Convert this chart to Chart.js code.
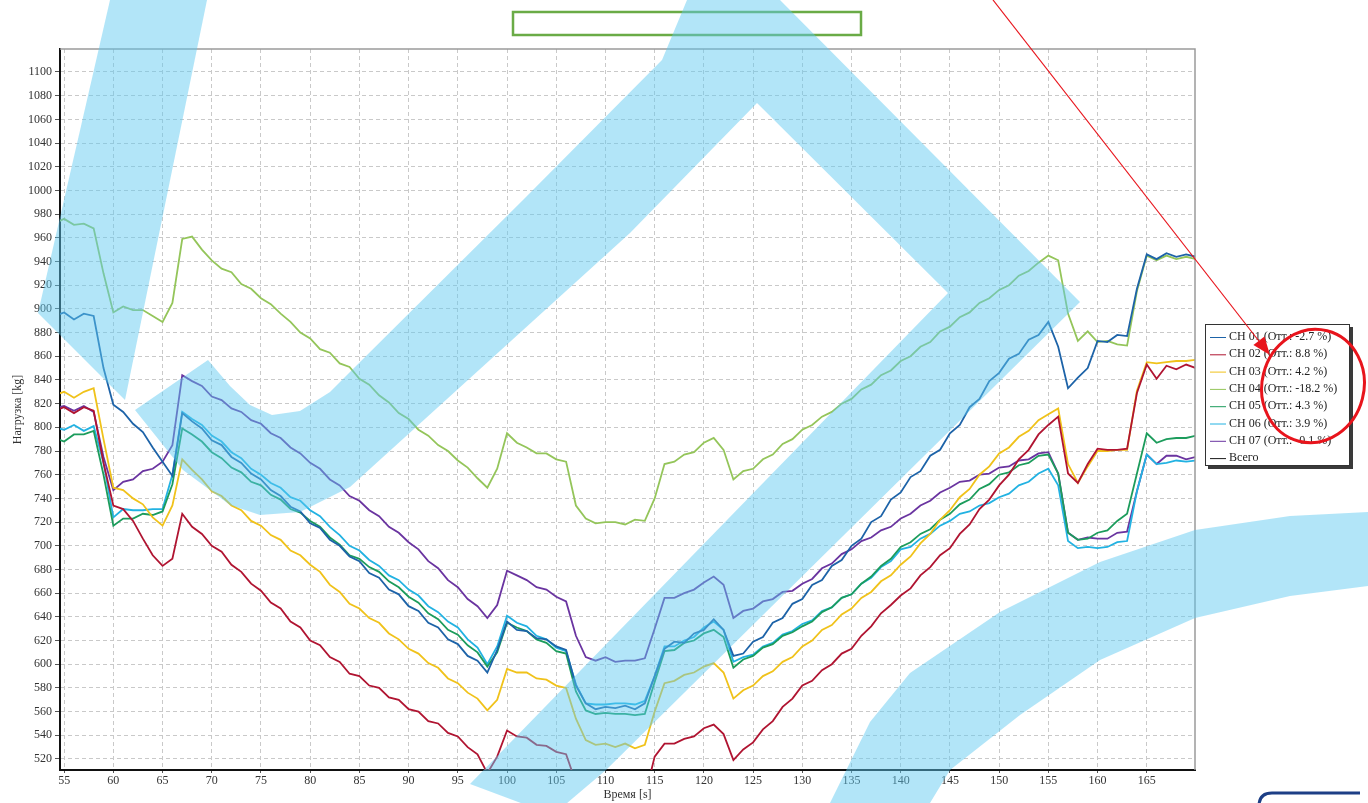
<!DOCTYPE html>
<html>
<head>
<meta charset="utf-8">
<script src="https://cdn.jsdelivr.net/npm/chart.js@4.4.1/dist/chart.umd.min.js"></script>
<style>
html,body{margin:0;padding:0;background:#fff;}
#wrap{position:relative;width:1368px;height:803px;overflow:hidden;}
canvas{display:block;}
</style>
</head>
<body>
<div id="wrap"><canvas id="c" width="1368" height="803"></canvas></div>
<script>
// ---- data ----
const times = [54,55,56,57,58,59,60,61,62,63,64,65,66,67,68,69,70,71,72,73,74,75,76,77,78,79,80,81,82,83,84,85,86,87,88,89,90,91,92,93,94,95,96,97,98,99,100,101,102,103,104,105,106,107,108,109,110,111,112,113,114,115,116,117,118,119,120,121,122,123,124,125,126,127,128,129,130,131,132,133,134,135,136,137,138,139,140,141,142,143,144,145,146,147,148,149,150,151,152,153,154,155,156,157,158,159,160,161,162,163,164,165,166,167,168,169,170];

const ch01 = [894,897,891,896,894,850,819,
  813,803,796,783,771,759,812,805,799,789,
  785,775,770,761,756,747,742,733,729,719,
  715,705,700,691,687,677,673,663,659,649,
  645,635,631,621,617,607,603,593,612,636,
  629,628,622,621,615,612,582,567,562,564,
  563,565,562,567,590,613,619,618,626,629,
  638,629,607,609,619,623,635,639,651,655,
  667,671,683,688,700,706,720,725,739,745,
  758,763,776,781,795,802,817,824,839,846,
  858,862,874,878,889,868,833,842,850,873,
  872,878,877,917,946,942,947,944,946,944];

const ch02 = [814,817,812,817,814,770,734,
  731,721,706,692,683,689,727,716,710,700,
  695,684,678,668,662,652,647,636,631,620,
  616,606,602,592,590,582,580,572,570,562,
  560,552,550,542,539,530,524,508,522,544,
  539,538,532,531,526,524,500,490,491,488,
  491,490,491,488,522,533,533,537,539,546,
  549,541,519,528,534,545,552,564,571,582,
  586,595,600,609,613,624,632,643,650,658,
  664,675,682,692,698,710,718,731,739,751,
  760,773,781,794,802,809,761,753,769,782,
  781,781,782,829,853,841,852,849,853,850];

const ch03 = [827,830,825,830,833,790,749,
  747,740,735,724,717,734,773,764,756,746,
  742,734,730,721,717,709,705,696,692,684,
  678,667,661,651,647,639,635,626,621,613,
  609,601,597,588,584,576,571,561,570,596,
  593,593,588,587,582,580,554,536,532,533,
  530,533,529,532,560,584,586,591,593,598,
  601,593,571,578,582,590,594,602,606,615,
  620,629,633,642,647,656,661,670,675,684,
  691,702,710,722,730,741,748,760,767,778,
  783,792,797,806,811,816,769,753,767,780,
  780,781,781,831,855,854,855,856,856,857];

const ch04 = [972,976,971,972,968,930,897,
  902,899,899,894,889,905,959,961,950,941,
  934,931,921,917,909,904,896,889,880,875,
  866,863,854,851,841,836,827,821,812,807,
  798,793,785,780,772,766,757,749,765,795,
  787,783,778,778,773,771,734,723,719,720,
  720,718,722,721,740,769,771,777,779,787,
  791,781,756,763,765,773,777,786,790,798,
  802,809,813,820,824,832,836,844,848,856,
  860,868,872,881,885,893,897,905,909,916,
  920,928,932,939,945,941,896,873,881,872,
  873,870,869,915,945,941,945,942,944,942];

const ch05 = [791,788,794,794,797,760,717,
  723,723,727,726,729,752,799,794,788,779,
  774,766,762,754,751,743,739,731,728,721,
  716,707,701,692,689,682,678,670,665,657,
  652,643,638,629,625,616,610,598,610,635,
  631,628,621,618,611,609,577,561,558,559,
  558,558,557,558,585,611,612,618,620,626,
  629,623,597,604,607,614,617,624,627,632,
  636,644,648,656,659,668,674,683,689,699,
  703,710,714,722,727,735,739,748,752,760,
  762,768,770,776,777,761,711,705,706,711,
  713,721,727,761,795,787,790,791,791,793];

const ch06 = [800,798,802,797,801,770,724,
  731,730,730,731,731,760,813,807,802,793,
  788,779,774,765,760,753,749,741,738,730,
  725,716,709,700,696,688,683,675,671,663,
  658,649,644,636,631,621,614,600,615,641,
  635,632,624,621,614,611,583,567,566,566,
  567,567,566,569,590,615,615,620,623,631,
  636,629,602,606,608,615,618,625,628,634,
  637,645,648,656,659,668,673,682,687,697,
  699,706,710,717,721,727,729,734,736,741,
  744,751,754,761,765,751,704,698,699,698,
  699,703,704,746,777,769,770,772,771,772];

const ch07 = [816,818,814,818,813,775,747,
  754,756,763,765,771,785,844,839,835,826,
  823,816,813,806,803,795,791,783,778,770,
  765,756,751,742,738,730,725,716,711,703,
  697,687,681,671,665,655,649,639,650,679,
  675,671,665,663,657,653,624,606,603,606,
  602,603,603,605,630,656,656,660,663,669,
  674,667,639,645,647,653,655,661,662,668,
  672,681,685,693,697,704,707,713,716,723,
  727,734,738,745,749,754,755,760,761,766,
  767,772,773,778,779,761,711,705,707,706,
  706,711,712,746,777,769,776,776,773,775];

const vsego = []; // total lies far above the visible range

const seriesLabels = ['CH 01 (Отт.: -2.7 %)','CH 02 (Отт.: 8.8 %)','CH 03 (Отт.: 4.2 %)','CH 04 (Отт.: -18.2 %)','CH 05 (Отт.: 4.3 %)','CH 06 (Отт.: 3.9 %)','CH 07 (Отт.: -0.1 %)','Всего'];
const seriesValues = [ch01, ch02, ch03, ch04, ch05, ch06, ch07, vsego];
const seriesColors = ['#1d63a8','#b01431','#f0c21a','#94c55a','#1c9c5c','#22b2e2','#6a34a0','#1a1a1a'];

const yMin = 510.7, yMax = 1119.4, yStep = 20;
const xMin = 54.58, xMax = 169.9, xStep = 5;

// ---- decoration geometry (pixels) ----
const wmShapes = [
  [[110,0],[207,0],[125,400],[38,313]],
  [[135,410],[208,360],[230,386],[250,405],[272,415],[300,411],[330,392],[355,367],[523,200],[662,60],[687,0],[780,0],
   [1080,302],[606,770],[553,815],[470,784],[948,293],[757,103],[630,233],[350,487],[300,512],[260,515],[230,505],[183,470]],
  [[830,803],[870,722],[910,673],[1000,612],[1100,562],[1195,530],[1290,516],[1368,512],
   [1368,586],[1290,596],[1195,618],[1100,660],[1020,715],[950,770],[930,803]]
];

const SERIF = '"Liberation Serif", "Times New Roman", serif';

const datasets = seriesValues.map((vals, i) => ({
  label: seriesLabels[i],
  data: vals.map((v, k) => ({x: times[k], y: v})),
  borderColor: seriesColors[i],
  backgroundColor: seriesColors[i],
  borderWidth: 1.8,
  pointRadius: 0,
  tension: 0,
  fill: false
}));

const decorPlugin = {
  id: 'decor',
  afterDraw(chart) {
    const ctx = chart.ctx;
    const a = chart.chartArea;
    ctx.save();
    // top & right frame lines
    ctx.strokeStyle = '#9a9a9a';
    ctx.lineWidth = 1.5;
    ctx.beginPath();
    ctx.moveTo(a.left, a.top); ctx.lineTo(a.right, a.top); ctx.lineTo(a.right, a.bottom);
    ctx.stroke();

    // legend box
    const lx = 1205, ly = 324, lw = 145, lh = 142;
    ctx.fillStyle = '#3a3a3a';
    ctx.fillRect(lx + 3, ly + 3, lw, lh);
    ctx.fillStyle = '#fff';
    ctx.fillRect(lx, ly, lw, lh);
    ctx.strokeStyle = '#333';
    ctx.lineWidth = 1;
    ctx.strokeRect(lx + 0.5, ly + 0.5, lw - 1, lh - 1);
    ctx.font = '12px ' + SERIF;
    ctx.textBaseline = 'middle';
    chart.data.datasets.forEach((ds, i) => {
      const cy = ly + 13 + i * 17.3;
      ctx.strokeStyle = ds.borderColor;
      ctx.lineWidth = 1;
      ctx.beginPath();
      ctx.moveTo(lx + 5, cy + 0.5); ctx.lineTo(lx + 21, cy + 0.5);
      ctx.stroke();
      ctx.fillStyle = '#222';
      ctx.fillText(ds.label, lx + 24, cy);
    });

    // green title frame
    ctx.strokeStyle = '#6aab46';
    ctx.lineWidth = 2.5;
    ctx.strokeRect(513, 12, 348, 23);

    // translucent watermark
    ctx.fillStyle = 'rgba(95, 200, 240, 0.48)';
    wmShapes.forEach(poly => {
      ctx.beginPath();
      poly.forEach((p, k) => k ? ctx.lineTo(p[0], p[1]) : ctx.moveTo(p[0], p[1]));
      ctx.closePath();
      ctx.fill();
    });

    // small logo edge bottom-right
    ctx.strokeStyle = '#1d3f86';
    ctx.lineWidth = 3;
    ctx.beginPath();
    ctx.moveTo(1259, 806); ctx.quadraticCurveTo(1259, 793, 1272, 793); ctx.lineTo(1360, 793);
    ctx.stroke();

    // red annotation: line with arrow + ellipse
    ctx.strokeStyle = '#e8141c';
    ctx.fillStyle = '#e8141c';
    ctx.lineWidth = 1.2;
    const x0 = 993, y0 = 0, x1 = 1270, y1 = 355;
    ctx.beginPath(); ctx.moveTo(x0, y0); ctx.lineTo(x1 - 8, y1 - 10); ctx.stroke();
    const ang = Math.atan2(y1 - y0, x1 - x0);
    const L = 18, W = 7;
    ctx.beginPath();
    ctx.moveTo(x1, y1);
    ctx.lineTo(x1 - L * Math.cos(ang) + W * Math.sin(ang), y1 - L * Math.sin(ang) - W * Math.cos(ang));
    ctx.lineTo(x1 - L * Math.cos(ang) - W * Math.sin(ang), y1 - L * Math.sin(ang) + W * Math.cos(ang));
    ctx.closePath(); ctx.fill();
    ctx.lineWidth = 3;
    ctx.beginPath();
    ctx.ellipse(1313, 386, 51, 57, 0.25, 0, Math.PI * 2);
    ctx.stroke();
    ctx.restore();
  }
};

new Chart(document.getElementById('c'), {
  type: 'line',
  data: { datasets },
  options: {
    responsive: false,
    animation: false,
    events: [],
    layout: { padding: { left: 0, top: 49, right: 173, bottom: 0 } },
    plugins: { legend: { display: false }, tooltip: { enabled: false } },
    scales: {
      x: {
        type: 'linear', min: xMin, max: xMax,
        afterFit(s) { s.height = 33; },
        ticks: { stepSize: xStep, includeBounds: false, autoSkip: false, maxRotation: 0,
          padding: 1, color: '#333', font: { family: SERIF, size: 12 },
          callback: v => String(v) },
        grid: { color: '#c9c9c9', lineWidth: 1, tickLength: 3, tickColor: '#555' },
        border: { color: '#111', width: 2, dash: [4, 3] },
        title: { display: true, text: 'Время [s]', color: '#333', font: { family: SERIF, size: 12 }, padding: { top: 0, bottom: 1 } }
      },
      y: {
        type: 'linear', min: yMin, max: yMax,
        afterFit(s) { s.width = 60; },
        ticks: { stepSize: yStep, includeBounds: false, autoSkip: false,
          padding: 3, color: '#333', font: { family: SERIF, size: 12 },
          callback: v => String(v) },
        grid: { color: '#c9c9c9', lineWidth: 1, tickLength: 5, tickColor: '#555' },
        border: { color: '#111', width: 2, dash: [4, 3] },
        title: { display: true, text: 'Нагрузка [kg]', color: '#333', font: { family: SERIF, size: 12 }, padding: { top: 11, bottom: 0 } }
      }
    }
  },
  plugins: [decorPlugin]
});
</script>
</body>
</html>
